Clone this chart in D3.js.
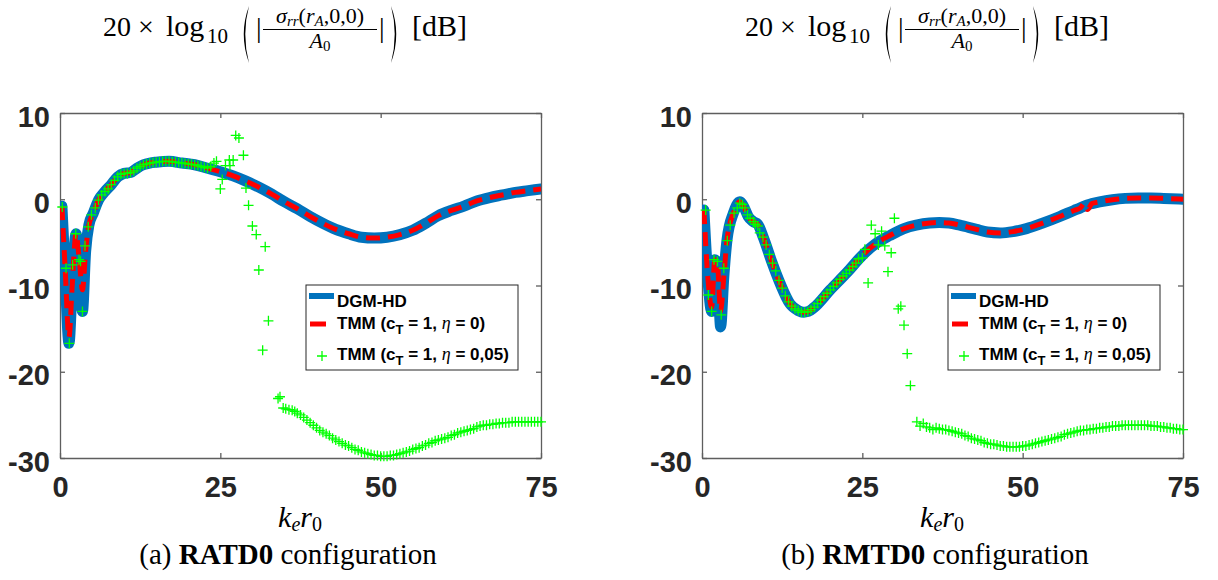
<!DOCTYPE html>
<html>
<head>
<meta charset="utf-8">
<script src="https://d3js.org/d3.v7.min.js"></script>
<style>
body { margin: 0; background: #fff; }
</style>
</head>
<body>
<script>

// ---- data ----
const xTicks = [0, 25, 50, 75];
const yTicks = [-30, -20, -10, 0, 10];
const legendNames = ["DGM-HD", "TMM", "TMM"];
const etaValues = ["0", "0,05"];

// (a) RATD0
const kCurveA = [0.3,0.8,1.4,1.9,2.5,3.0,3.5,4.0,4.5,5.2,6.0,7.0,8.0,9.0,10.0,11.0,12.0,13.0,14.0,15.0,17.0,19.0,21.0,23.0,25.0,27.0,29.0,31.0,33.0,35.0,37.0,39.0,41.0,43.0,45.0,47.0,49.0,51.0,53.0,55.0,57.0,59.0,61.0,63.0,65.0,67.0,69.0,71.0,73.0,75.0];
const dgmA = [-0.8,-8.5,-16.7,-10,-4.0,-8,-13.0,-6,-3.0,-1.6,-0.1,0.9,1.7,2.6,3.0,3.1,3.6,4.0,4.2,4.3,4.4,4.2,4.0,3.6,3.2,2.7,2.1,1.4,0.6,-0.3,-1.1,-2.0,-2.8,-3.5,-4.0,-4.4,-4.5,-4.4,-4.1,-3.6,-2.8,-1.9,-1.3,-0.8,-0.2,0.2,0.5,0.8,1.0,1.2];
const tmmA = [-0.8,-8.0,-16.0,-10,-4.0,-7,-10.5,-6,-3.0,-1.6,-0.1,0.9,1.7,2.6,3.0,3.1,3.6,4.0,4.2,4.3,4.4,4.2,4.0,3.6,3.2,2.7,2.1,1.4,0.6,-0.3,-1.1,-2.0,-2.8,-3.5,-4.0,-4.4,-4.5,-4.4,-4.1,-3.6,-2.8,-1.9,-1.3,-0.8,-0.2,0.2,0.5,0.8,1.0,1.2];
const kDampA = [0.36,0.94,1.45,1.97,2.45,2.96,3.2,3.5,3.9,4.4,4.9,5.5,6.0,6.5,7.0,7.5,8.0,8.5,9.0,9.5,10.0,10.5,11.0,11.5,12.0,12.5,13.0,13.5,14.0,14.5,15.0,15.5,16.0,16.5,17.0,17.5,18.0,18.5,19.0,19.5,20.0,20.5,21.0,21.5,22.0,22.5,23.0,23.5,24.0,24.4,
  25.0,25.3,25.8,26.4,26.5,27.0,27.4,27.9,28.6,29.0,29.4,30.0,30.6,31.0,31.6,32.0,32.5,34.0,34.3,34.8,35.2,35.7,36.2,36.6,
  37.0,37.5,38.0,38.5,39.0,39.5,40.0,40.5,41.0,41.5,42.0,42.5,43.0,43.5,44.0,44.5,45.0,45.5,46.0,46.5,47.0,47.5,48.0,48.5,49.0,49.5,50.0,50.5,51.0,51.5,52.0,52.5,53.0,53.5,54.0,54.5,55.0,55.5,56.0,56.5,57.0,57.5,58.0,58.5,59.0,59.5,60.0,60.5,61.0,61.5,62.0,62.5,63.0,63.5,64.0,64.5,65.0,65.5,66.0,66.5,67.0,67.5,68.0,68.5,69.0,69.5,70.0,70.5,71.0,71.5,72.0,72.5,73.0,73.5,74.0,74.5,75.0];
const dampA = [-0.9,-8.0,-16.7,-7.6,-4.0,-7.0,-7.2,-13.0,-5.4,-3.2,-1.8,-1.0,-0.1,0.5,0.9,1.2,1.7,2.2,2.6,2.9,3.0,3.0,3.1,3.3,3.6,3.8,4.0,4.1,4.2,4.25,4.3,4.35,4.4,4.4,4.4,4.35,4.3,4.25,4.2,4.15,4.1,4.05,4.0,3.9,3.8,3.7,3.6,3.8,4.2,4.4,
  1.2,2.3,3.9,4.55,3.9,4.55,7.4,7.1,5.1,1.3,-0.7,-3.1,-4.1,-8.2,-17.5,-5.5,-14.1,-23.1,-22.9,-24.2,-24.3,-24.4,-24.45,-24.6,
  -24.8,-25.0,-25.3,-25.6,-25.9,-26.2,-26.5,-26.8,-27.0,-27.2,-27.4,-27.7,-27.9,-28.1,-28.3,-28.5,-28.6,-28.8,-29.0,-29.1,-29.3,-29.4,-29.5,-29.6,-29.7,-29.7,-29.8,-29.8,-29.8,-29.7,-29.7,-29.6,-29.5,-29.4,-29.3,-29.2,-29.0,-28.9,-28.8,-28.6,-28.5,-28.3,-28.2,-28.0,-27.9,-27.8,-27.7,-27.6,-27.4,-27.3,-27.1,-27.0,-26.9,-26.8,-26.7,-26.6,-26.4,-26.3,-26.2,-26.2,-26.1,-26.1,-26.0,-26.0,-25.9,-25.9,-25.9,-25.8,-25.8,-25.8,-25.8,-25.8,-25.8,-25.8,-25.8,-25.8,-25.8];

// (b) RMTD0
const kCurveB = [0.3,0.9,1.5,2.0,2.4,2.9,3.4,3.9,4.9,5.9,6.6,7.2,8.0,8.7,9.6,10.9,12.2,13.7,15.0,15.8,16.6,17.4,20.0,22.6,25.0,27.0,29.3,31.5,33.4,35.5,37.0,38.5,40.2,42.8,44.5,46.5,48.5,50.6,53.0,55.8,58.0,59.0,59.6,60.1,60.8,62.0,64.0,66.0,68.0,70.0,72.0,75.0];
const dgmB = [-1.25,-9,-13.0,-7.0,-7.5,-14.8,-9,-4.7,-1.6,-0.3,-1.0,-2.0,-2.6,-2.9,-4.5,-7.3,-9.8,-12.1,-12.9,-13.1,-13.0,-12.6,-10.5,-8.5,-6.5,-5.2,-4.2,-3.4,-3.0,-2.75,-2.7,-2.75,-3.0,-3.5,-3.8,-3.9,-3.75,-3.4,-2.8,-2.0,-1.3,-1.0,-0.8,-0.65,-0.5,-0.3,-0.05,0.1,0.15,0.15,0.1,0.0];
const tmmB = [-1.25,-9,-12.5,-7.0,-7.5,-13.0,-9,-4.7,-1.6,-0.3,-1.0,-2.0,-2.6,-2.9,-4.5,-7.3,-9.8,-12.1,-12.9,-13.1,-13.0,-12.6,-10.5,-8.5,-6.5,-5.2,-4.2,-3.4,-3.0,-2.75,-2.7,-2.75,-3.0,-3.5,-3.8,-3.9,-3.75,-3.4,-2.8,-2.0,-1.3,-1.0,-0.5,-1.2,-0.5,-0.3,-0.05,0.1,0.15,0.15,0.1,0.0];
const kDampB = [0.57,0.99,1.5,1.87,2.4,3.0,3.4,3.95,4.4,5.0,5.5,5.9,6.3,6.7,7.1,7.5,8.0,8.3,8.7,9.0,9.5,10.0,10.5,11.0,11.5,12.0,12.5,13.0,13.5,14.0,14.5,15.0,15.5,16.0,16.5,17.0,17.5,18.0,18.5,19.0,19.5,20.0,20.5,21.0,21.5,22.0,22.5,23.0,23.5,24.0,24.4,25.0,
  25.4,25.9,26.4,27.0,27.5,28.0,28.5,29.0,29.5,30.0,30.6,31.0,31.5,32.0,32.5,33.5,34.0,34.5,35.0,35.5,36.0,36.5,37.0,
  37.5,38.0,38.5,39.0,39.5,40.0,40.5,41.0,41.5,42.0,42.5,43.0,43.5,44.0,44.5,45.0,45.5,46.0,46.5,47.0,47.5,48.0,48.5,49.0,49.5,50.0,50.5,51.0,51.5,52.0,52.5,53.0,53.5,54.0,54.5,55.0,55.5,56.0,56.5,57.0,57.5,58.0,58.5,59.0,59.5,60.0,60.5,61.0,61.5,62.0,62.5,63.0,63.5,64.0,64.5,65.0,65.5,66.0,66.5,67.0,67.5,68.0,68.5,69.0,69.5,70.0,70.5,71.0,71.5,72.0,72.5,73.0,73.5,74.0,74.5,75.0];
const dampB = [-1.25,-11.1,-13.0,-7.0,-7.2,-13.4,-8.0,-4.8,-3.0,-1.6,-1.0,-0.45,-0.6,-1.0,-1.8,-2.2,-2.6,-2.9,-3.1,-3.9,-4.4,-5.3,-6.4,-7.4,-8.3,-9.4,-10.3,-11.2,-11.9,-12.4,-12.7,-12.9,-13.1,-13.1,-13.0,-12.8,-12.5,-12.1,-11.7,-11.3,-10.9,-10.5,-10.1,-9.7,-9.3,-8.9,-8.6,-8.2,-7.8,-7.4,-6.9,-6.8,
  -5.8,-9.7,-3.0,-4.0,-5.3,-3.7,-5.4,-8.4,-6.2,-2.2,-12.7,-12.4,-14.6,-17.9,-21.6,-25.8,-26.3,-26.0,-26.4,-26.5,-26.7,-26.5,-26.6,
  -26.7,-26.7,-26.8,-26.9,-27.0,-27.1,-27.2,-27.4,-27.5,-27.7,-27.8,-27.9,-28.0,-28.2,-28.3,-28.4,-28.4,-28.5,-28.6,-28.6,-28.7,-28.7,-28.7,-28.7,-28.7,-28.6,-28.6,-28.5,-28.4,-28.3,-28.2,-28.1,-28.0,-27.9,-27.8,-27.7,-27.6,-27.5,-27.3,-27.2,-27.1,-27.0,-26.9,-26.8,-26.8,-26.7,-26.7,-26.6,-26.6,-26.5,-26.5,-26.4,-26.4,-26.3,-26.3,-26.3,-26.2,-26.2,-26.2,-26.2,-26.2,-26.2,-26.2,-26.2,-26.2,-26.3,-26.3,-26.3,-26.4,-26.4,-26.5,-26.5,-26.6,-26.6,-26.7,-26.7];

// ---- layout ----
const W = 1218, H = 580;
const plotW = 481, plotH = 345, plotTop = 113;
const sans = "'Liberation Sans', Arial, Helvetica, sans-serif";
const serif = "'Liberation Serif', 'Times New Roman', serif";
const blue = "#0072BD", red = "#FF0000", green = "#00FF00";

const svg = d3.select("body").append("svg").attr("width", W).attr("height", H);

const panels = [
  { left: 60, k: kCurveA, dgm: dgmA, tmm: tmmA, kd: kDampA, damp: dampA, tag: "(a) ", name: "RATD0", titleX: 103, capX: 288, id: "a" },
  { left: 702, k: kCurveB, dgm: dgmB, tmm: tmmB, kd: kDampB, damp: dampB, tag: "(b) ", name: "RMTD0", titleX: 745, capX: 935, id: "b" }
];

const x = d3.scaleLinear().domain([0, 75]).range([0, plotW]);
const y = d3.scaleLinear().domain([-30, 10]).range([plotH, 0]);

// big thin parenthesis, drawn as a crescent
function paren(g, px, left) {
  const s = left ? 1 : -1;
  g.append("path")
    .attr("transform", "translate(" + px + ",0) scale(" + s + ",1)")
    .attr("d", "M7,6 Q-3.5,34 7,63 Q-0.5,34 7,6 Z")
    .attr("fill", "#000");
}

panels.forEach(function(p) {
  const g = svg.append("g").attr("transform", "translate(" + p.left + "," + plotTop + ")");

  g.append("clipPath").attr("id", "clip-" + p.id)
    .append("rect").attr("width", plotW).attr("height", plotH);

  // axes (box with inner ticks)
  g.append("g").attr("transform", "translate(0," + plotH + ")")
    .call(d3.axisBottom(x).tickValues(xTicks).tickSizeInner(-5).tickSizeOuter(0).tickPadding(18)
      .tickFormat(function(d) { return String(d); }));
  const axL = g.append("g")
    .call(d3.axisLeft(y).tickValues(yTicks).tickSizeInner(-5).tickSizeOuter(0).tickPadding(10)
      .tickFormat(function(d) { return String(d); }));
  g.append("g").call(d3.axisTop(x).tickValues(xTicks).tickSizeInner(-5).tickSizeOuter(0).tickFormat(""));
  g.append("g").attr("transform", "translate(" + plotW + ",0)")
    .call(d3.axisRight(y).tickValues(yTicks).tickSizeInner(-5).tickSizeOuter(0).tickFormat(""));

  g.selectAll(".domain, .tick line").attr("stroke", "#5e5e5e").attr("stroke-width", 1.3);
  g.selectAll(".tick text").attr("font-family", sans).attr("font-weight", "bold")
    .attr("font-size", 29).attr("fill", "#262626");
  axL.selectAll(".tick text").attr("dy", "0.45em");

  // curves
  const line = d3.line()
    .x(function(d) { return x(d[0]); })
    .y(function(d) { return y(d[1]); })
    .curve(d3.curveMonotoneX);

  const lines = g.append("g").attr("clip-path", "url(#clip-" + p.id + ")");
  lines.append("path")
    .datum(p.k.map(function(k, i) { return [k, p.dgm[i]]; }))
    .attr("d", line).attr("fill", "none").attr("stroke", blue)
    .attr("stroke-width", 11).attr("stroke-linejoin", "round").attr("stroke-linecap", "round");
  lines.append("path")
    .datum(p.k.map(function(k, i) { return [k, p.tmm[i]]; }))
    .attr("d", line).attr("fill", "none").attr("stroke", red)
    .attr("stroke-width", 5).attr("stroke-dasharray", "14,8");

  g.append("g").selectAll("path")
    .data(p.kd.map(function(k, i) { return [k, p.damp[i]]; }))
    .enter().append("path")
    .attr("transform", function(d) { return "translate(" + x(d[0]) + "," + y(d[1]) + ")"; })
    .attr("d", "M-5,0H5M0,-5V5")
    .attr("stroke", green).attr("stroke-width", 1.3).attr("fill", "none");

  // legend
  const lg = g.append("g").attr("transform", "translate(246,172)");
  lg.append("rect").attr("width", 212).attr("height", 85)
    .attr("fill", "#fff").attr("stroke", "#262626").attr("stroke-width", 1);
  lg.append("line").attr("x1", 3).attr("x2", 28).attr("y1", 11).attr("y2", 11)
    .attr("stroke", blue).attr("stroke-width", 6);
  lg.append("line").attr("x1", 4).attr("x2", 20).attr("y1", 39).attr("y2", 39)
    .attr("stroke", red).attr("stroke-width", 5);
  lg.append("path").attr("transform", "translate(16,71)").attr("d", "M-5,0H5M0,-5V5")
    .attr("stroke", green).attr("stroke-width", 1.3);

  lg.append("text").attr("x", 31).attr("y", 22).attr("font-family", sans).attr("font-weight", "bold")
    .attr("font-size", 17).text(legendNames[0]);
  [0, 1].forEach(function(j) {
    const t = lg.append("text").attr("x", 31).attr("y", j === 0 ? 44 : 75)
      .attr("font-family", sans).attr("font-weight", "bold").attr("font-size", 17);
    t.append("tspan").text(legendNames[j + 1] + " (c");
    t.append("tspan").attr("dy", 5).attr("font-size", 13).text("T");
    t.append("tspan").attr("dy", -5).text(" = 1, ");
    t.append("tspan").attr("font-family", serif).attr("font-style", "italic").attr("font-weight", "normal").attr("font-size", 18).text("η");
    t.append("tspan").text(" = " + etaValues[j] + ")");
  });

  // x label
  const xl = svg.append("text").attr("x", p.left + 240).attr("y", 527).attr("text-anchor", "middle")
    .attr("font-family", serif).attr("font-size", 30);
  xl.append("tspan").attr("font-style", "italic").text("k");
  xl.append("tspan").attr("font-style", "italic").attr("font-size", 20).attr("dy", 4).text("e");
  xl.append("tspan").attr("font-style", "italic").attr("dy", -4).text("r");
  xl.append("tspan").attr("font-size", 20).attr("dy", 4).text("0");

  // caption
  const cap = svg.append("text").attr("x", p.capX).attr("y", 564).attr("text-anchor", "middle")
    .attr("font-family", serif).attr("font-size", 29);
  cap.append("tspan").text(p.tag);
  cap.append("tspan").attr("font-weight", "bold").text(p.name);
  cap.append("tspan").text(" configuration");

  // title: 20 x log10(|sigma_rr(r_A,0,0)/A_0|) [dB]
  const t = svg.append("g").attr("transform", "translate(" + p.titleX + ",0)")
    .attr("font-family", serif).attr("fill", "#000");
  t.append("text").attr("x", 0).attr("y", 36).attr("font-size", 28).text("20");
  t.append("text").attr("x", 35).attr("y", 36).attr("font-size", 28).text("×");
  t.append("text").attr("x", 63).attr("y", 36).attr("font-size", 30).text("log");
  t.append("text").attr("x", 104).attr("y", 43).attr("font-size", 21).text("10");
  paren(t, 139, true);
  t.append("text").attr("x", 153).attr("y", 37).attr("font-size", 28).text("|");
  const num = t.append("text").attr("x", 217).attr("y", 23).attr("text-anchor", "middle").attr("font-size", 22);
  num.append("tspan").attr("font-style", "italic").text("σ");
  num.append("tspan").attr("font-style", "italic").attr("font-size", 15).attr("dy", 3).text("rr");
  num.append("tspan").attr("dy", -3).text("(");
  num.append("tspan").attr("font-style", "italic").text("r");
  num.append("tspan").attr("font-style", "italic").attr("font-size", 15).attr("dy", 3).text("A");
  num.append("tspan").attr("dy", -3).text(",0,0)");
  t.append("line").attr("x1", 160).attr("x2", 274).attr("y1", 29.5).attr("y2", 29.5)
    .attr("stroke", "#000").attr("stroke-width", 1);
  const den = t.append("text").attr("x", 217).attr("y", 48).attr("text-anchor", "middle").attr("font-size", 22);
  den.append("tspan").attr("font-style", "italic").text("A");
  den.append("tspan").attr("font-size", 15).attr("dy", 3).text("0");
  t.append("text").attr("x", 276).attr("y", 37).attr("font-size", 28).text("|");
  paren(t, 295, false);
  t.append("text").attr("x", 309).attr("y", 36).attr("font-size", 30).text("[dB]");
});

</script>
</body>
</html>
